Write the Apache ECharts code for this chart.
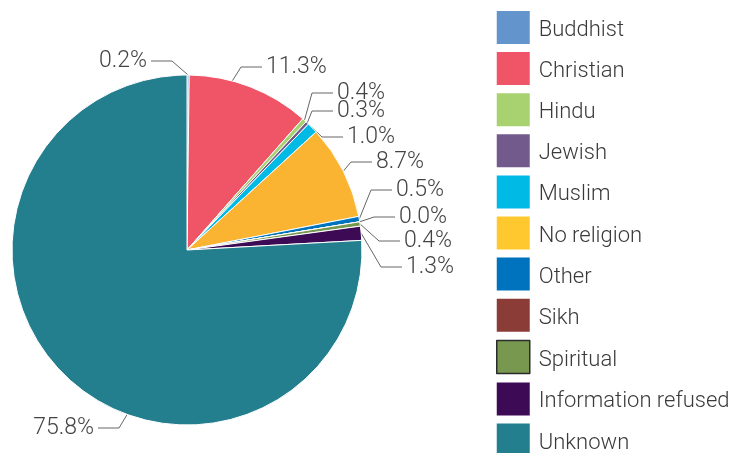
<!DOCTYPE html>
<html>
<head>
<meta charset="utf-8">
<script src="https://cdn.jsdelivr.net/npm/echarts@6/dist/echarts.min.js"></script>
<style>
  html, body { margin: 0; padding: 0; background: #fff; }
  #chart { width: 737px; height: 453px; }
</style>
</head>
<body>
<div id="chart"></div>
<script>
// Religion breakdown (percent of total)
const categories = ['Buddhist', 'Christian', 'Hindu', 'Jewish', 'Muslim', 'No religion',
  'Other', 'Sikh', 'Spiritual', 'Information refused', 'Unknown'];
const shares = [0.2, 11.3, 0.4, 0.3, 1.0, 8.7, 0.5, 0.0, 0.4, 1.3, 75.8];
const sliceColors = ['#6494CC', '#F05567', '#A8D26F', '#725A8C', '#00BAE6', '#FBB431',
  '#0073BE', '#8B3C37', '#78984F', '#3D0B56', '#237E8D'];
const legendColors = ['#6494CC', '#F05567', '#A8D26F', '#725A8C', '#00BAE6', '#FFC82E',
  '#0073BE', '#8B3C37', '#78984F', '#3D0B56', '#237E8D'];

const pieCenter = [187, 250];
const pieRadius = 175;

// Hand-tuned callout placement: text anchor (x, y-centre), side of the text,
// and optionally the angle (degrees clockwise from 12 o'clock) where the leader meets the rim
const calloutSpots = [
  { x: 147, y: 61, side: 'left' },
  { x: 266, y: 67, side: 'right', rimAngle: 15 },
  { x: 337, y: 93, side: 'right' },
  { x: 337, y: 111, side: 'right' },
  { x: 347, y: 137, side: 'right' },
  { x: 376, y: 162, side: 'right' },
  { x: 396, y: 190, side: 'right' },
  { x: 399, y: 217, side: 'right' },
  { x: 404, y: 241, side: 'right' },
  { x: 406, y: 267, side: 'right' },
  { x: 94, y: 428, side: 'left', rimAngle: 200 }
];
const elbowLen = 21;
const textGap = 4;

function rimPoint(angleDeg) {
  const a = angleDeg * Math.PI / 180;
  return [pieCenter[0] + pieRadius * Math.sin(a), pieCenter[1] - pieRadius * Math.cos(a)];
}

const font = 'Roboto, "Liberation Sans", Arial, sans-serif';

const chart = echarts.init(document.getElementById('chart'), null, { renderer: 'canvas' });

chart.setOption({
  animation: false,
  backgroundColor: '#ffffff',
  legend: {
    orient: 'vertical',
    left: 496,
    top: 11,
    padding: 0,
    height: 460,
    itemWidth: 33,
    itemHeight: 33,
    itemGap: 8.1,
    icon: 'rect',
    formatter: name => '{t|' + name + '}',
    textStyle: {
      fontFamily: font, fontSize: 22, color: '#3a3a3a', fontWeight: 300,
      rich: {
        t: { fontFamily: font, fontSize: 22, color: '#3a3a3a', fontWeight: 300, padding: [6, 0, 0, 4] }
      }
    },
    data: categories.map((name, i) => ({
      name: name,
      itemStyle: name === 'Spiritual'
        ? { color: legendColors[i], borderColor: '#2b2b2b', borderWidth: 1.5 }
        : { color: legendColors[i], borderWidth: 0 }
    }))
  },
  series: [{
    type: 'pie',
    center: pieCenter,
    radius: [0, pieRadius],
    startAngle: 90,
    clockwise: true,
    avoidLabelOverlap: false,
    minShowLabelAngle: 0,
    itemStyle: { borderColor: '#ffffff', borderWidth: 1 },
    label: {
      show: true,
      position: 'outside',
      overflow: 'none',
      formatter: p => p.value.toFixed(1) + '%',
      fontFamily: font,
      fontSize: 23,
      fontWeight: 300,
      color: '#444444'
    },
    labelLine: {
      show: true,
      length: 14,
      length2: 22,
      smooth: false,
      lineStyle: { color: '#666666', width: 1 }
    },
    labelLayout: function (params) {
      const spot = calloutSpots[params.dataIndex];
      let anchor = params.labelLinePoints ? params.labelLinePoints[0] : null;
      if (spot.rimAngle !== undefined) anchor = rimPoint(spot.rimAngle);
      const dir = spot.side === 'right' ? 1 : -1;
      const end = [spot.x - dir * textGap, spot.y];
      const elbow = [end[0] - dir * elbowLen, spot.y];
      const out = {
        x: spot.x,
        y: spot.y,
        align: spot.side === 'right' ? 'left' : 'right',
        verticalAlign: 'middle'
      };
      if (anchor) out.labelLinePoints = [anchor, elbow, end];
      return out;
    },
    data: categories.map((name, i) => ({
      name: name,
      value: shares[i],
      itemStyle: { color: sliceColors[i] }
    }))
  }]
});
</script>
</body>
</html>
